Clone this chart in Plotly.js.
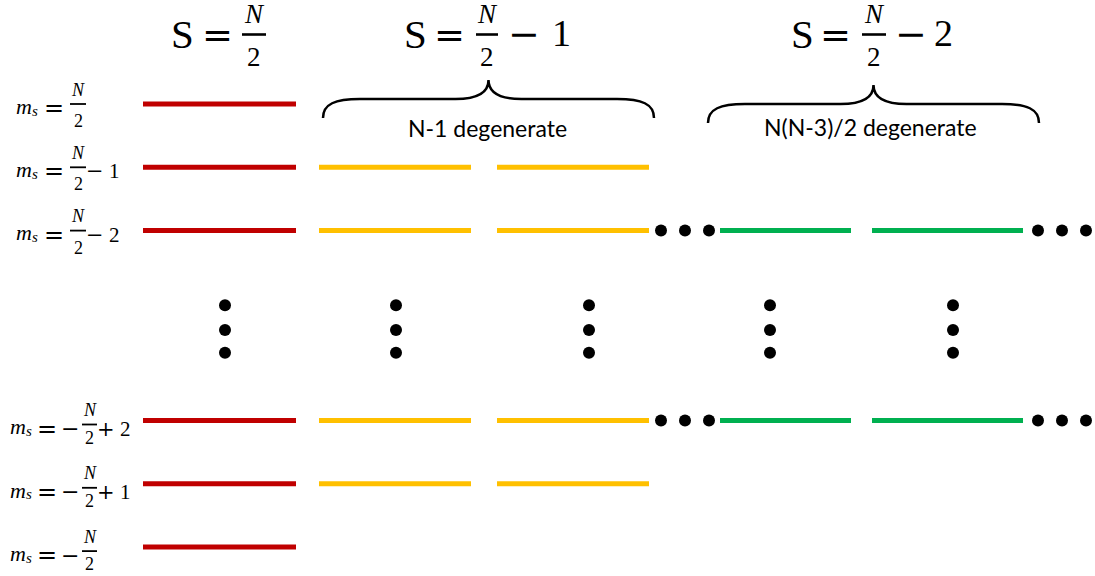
<!DOCTYPE html>
<html><head><meta charset="utf-8">
<script src="https://cdn.plot.ly/plotly-3.0.1.min.js"></script>
<style>html,body{margin:0;padding:0;background:#fff}</style>
</head><body><div id="chart" style="width:1095px;height:576px"></div>
<script>
// ---------- data ----------
// m_s levels drawn (row index, top to bottom; rows 3-4 are the gap shown by vertical ellipses)
const rowIndex = [0, 1, 2, 5, 6, 7];
const msSign  = ['', '', '', '−', '−', '−'];   // sign in front of N/2
const msOp    = ['', '−', '−', '+', '+', ''];  // operator after N/2
const msConst = ['', '1', '2', '2', '1', ''];  // constant after N/2

// S = N/2 : one state per level
const sHalfRows = [0, 1, 2, 5, 6, 7];
const sHalfSegs = [[143, 296]];
// S = N/2 - 1 : N-1 degenerate
const sMinus1Rows = [1, 2, 5, 6];
const sMinus1Segs = [[319, 471], [497, 649]];
// S = N/2 - 2 : N(N-3)/2 degenerate
const sMinus2Rows = [2, 5];
const sMinus2Segs = [[720, 851], [872, 1023]];

// ellipses
const hDotRows = [2, 5];
const hDotX = [661, 685, 709, 1038, 1062, 1086];
const vDotX = [225, 396, 589, 770, 953];
const vDotY = [3.18, 3.57, 3.93];

// column titles: S = N/2 − k
const titleConst = ['', '1', '2'];
const braceLabels = ['N-1 degenerate', 'N(N-3)/2 degenerate'];

// ---------- styling / layout ----------
const MATH = '"Liberation Serif", "DejaVu Serif", serif';
const OPS = '"DejaVu Serif", "Liberation Serif", serif';
const SANS = 'Lato, "Open Sans", sans-serif';
const RED = '#C00000', YEL = '#FFC000', GRN = '#00B050';
const ROW0 = 104, ROWSTEP = 63.3;

function segTrace(rows, segs, color) {
  const x = [], y = [];
  rows.forEach(r => segs.forEach(s => { x.push(s[0], s[1], null); y.push(r, r, null); }));
  return {type: 'scatter', mode: 'lines', x, y, line: {color, width: 5}, hoverinfo: 'skip', connectgaps: false};
}
const dx = [], dy = [];
hDotRows.forEach(r => hDotX.forEach(x => { dx.push(x); dy.push(r); }));
vDotX.forEach(x => vDotY.forEach(y => { dx.push(x); dy.push(y); }));

const traces = [
  segTrace(sHalfRows, sHalfSegs, RED),
  segTrace(sMinus1Rows, sMinus1Segs, YEL),
  segTrace(sMinus2Rows, sMinus2Segs, GRN),
  {type: 'scatter', mode: 'markers', x: dx, y: dy, marker: {color: '#000', size: 12, symbol: 'circle'}, hoverinfo: 'skip'}
];

const ann = [], shapes = [];
// text on pixel axis (y2), y = box middle
function ptxt(x, y, t, size, family, extra) {
  ann.push(Object.assign({x, y, xref: 'x', yref: 'y2', text: t, showarrow: false, borderpad: 0,
    xanchor: 'center', yanchor: 'middle', font: {family, size, color: '#000'}}, extra || {}));
}
// text on row axis, off = pixels below the row line (box middle)
function rtxt(x, row, off, t, size, family, extra) {
  ann.push(Object.assign({x, y: row, xref: 'x', yref: 'y', yshift: -off, text: t, showarrow: false, borderpad: 0,
    xanchor: 'center', yanchor: 'middle', font: {family, size, color: '#000'}}, extra || {}));
}

// left m_s labels
const posL = {m: 15, s: 31, eq: 54, bar: [70, 86], op: 94.5, c: 114, dy: 0, den: 17};
const negL = {m: 9, s: 25, eq: 47, sign: 70, bar: [82, 97], op: 106, c: 125, dy: 4, den: 13};
rowIndex.forEach((r, i) => {
  const L = msSign[i] ? negL : posL;
  const d = L.dy;
  rtxt(L.m, r, d + 2.2, '<i>m</i>', 22, MATH, {xanchor: 'left'});
  rtxt(L.s, r, d + 6.5, '<i>s</i>', 15, MATH, {xanchor: 'left'});
  rtxt(L.eq, r, d + 4, '=', 24, OPS);
  if (msSign[i]) rtxt(L.sign, r, d + 4, msSign[i], 22, OPS);
  const bc = (L.bar[0] + L.bar[1]) / 2;
  rtxt(bc, r, d - 14.5, '<i>N</i>', 18, MATH);
  rtxt(bc, r, d + L.den, '2', 18, MATH);
  shapes.push({type: 'line', xref: 'x', yref: 'y', x0: L.bar[0], x1: L.bar[1], y0: r + d / ROWSTEP, y1: r + d / ROWSTEP, line: {color: '#000', width: 1.8}});
  if (msOp[i]) rtxt(L.op, r, d + 4, msOp[i], 21, OPS);
  if (msConst[i]) rtxt(L.c, r, d + 4, msConst[i], 21, MATH);
});

// column titles
const titlePos = [
  {S: 182.5, eq: 217, bar: [242, 266], minus: null, c: null},
  {S: 415, eq: 449.5, bar: [476, 498], minus: 524, c: 561},
  {S: 802, eq: 835.5, bar: [862, 886], minus: 910.5, c: 943}
];
titlePos.forEach((p, k) => {
  ptxt(p.S, 33.5, 'S', 41, MATH);
  ptxt(p.eq, 35, '=', 37, OPS);
  const bc = (p.bar[0] + p.bar[1]) / 2;
  ptxt(bc, 14, '<i>N</i>', 27, MATH);
  ptxt(bc, 57, '2', 27, MATH);
  shapes.push({type: 'line', xref: 'x', yref: 'y2', x0: p.bar[0], x1: p.bar[1], y0: 34.5, y1: 34.5, line: {color: '#000', width: 2.6}});
  if (titleConst[k]) {
    ptxt(p.minus, 34, '−', 38, OPS);
    ptxt(p.c, 33, titleConst[k], 38, MATH);
  }
});

// braces
function brace(x0, x1, yEnd, yMid, yTip) {
  const xm = (x0 + x1) / 2;
  return `M ${x0} ${yEnd} C ${x0} ${yMid + 5}, ${x0 + 12} ${yMid}, ${x0 + 37} ${yMid} L ${xm - 33} ${yMid} ` +
         `C ${xm - 13} ${yMid}, ${xm} ${yMid - 5}, ${xm} ${yTip} ` +
         `C ${xm} ${yMid - 5}, ${xm + 13} ${yMid}, ${xm + 33} ${yMid} L ${x1 - 37} ${yMid} ` +
         `C ${x1 - 12} ${yMid}, ${x1} ${yMid + 5}, ${x1} ${yEnd}`;
}
shapes.push({type: 'path', xref: 'x', yref: 'y2', path: brace(323, 654, 118, 99, 80), line: {color: '#000', width: 2.5}});
shapes.push({type: 'path', xref: 'x', yref: 'y2', path: brace(708, 1039, 123, 104, 85), line: {color: '#000', width: 2.5}});
ptxt(487, 128, braceLabels[0], 23, SANS);
ptxt(870, 127, braceLabels[1], 23, SANS);

const layout = {
  width: 1095, height: 576, margin: {l: 0, r: 0, t: 0, b: 0, pad: 0},
  paper_bgcolor: '#fff', plot_bgcolor: '#fff', showlegend: false,
  xaxis: {range: [0, 1095], visible: false, fixedrange: true},
  yaxis: {range: [(576 - ROW0) / ROWSTEP, -ROW0 / ROWSTEP], visible: false, fixedrange: true},
  yaxis2: {range: [576, 0], overlaying: 'y', visible: false, fixedrange: true},
  shapes, annotations: ann
};
Plotly.newPlot('chart', traces, layout, {displayModeBar: false, staticPlot: true});
</script></body></html>
